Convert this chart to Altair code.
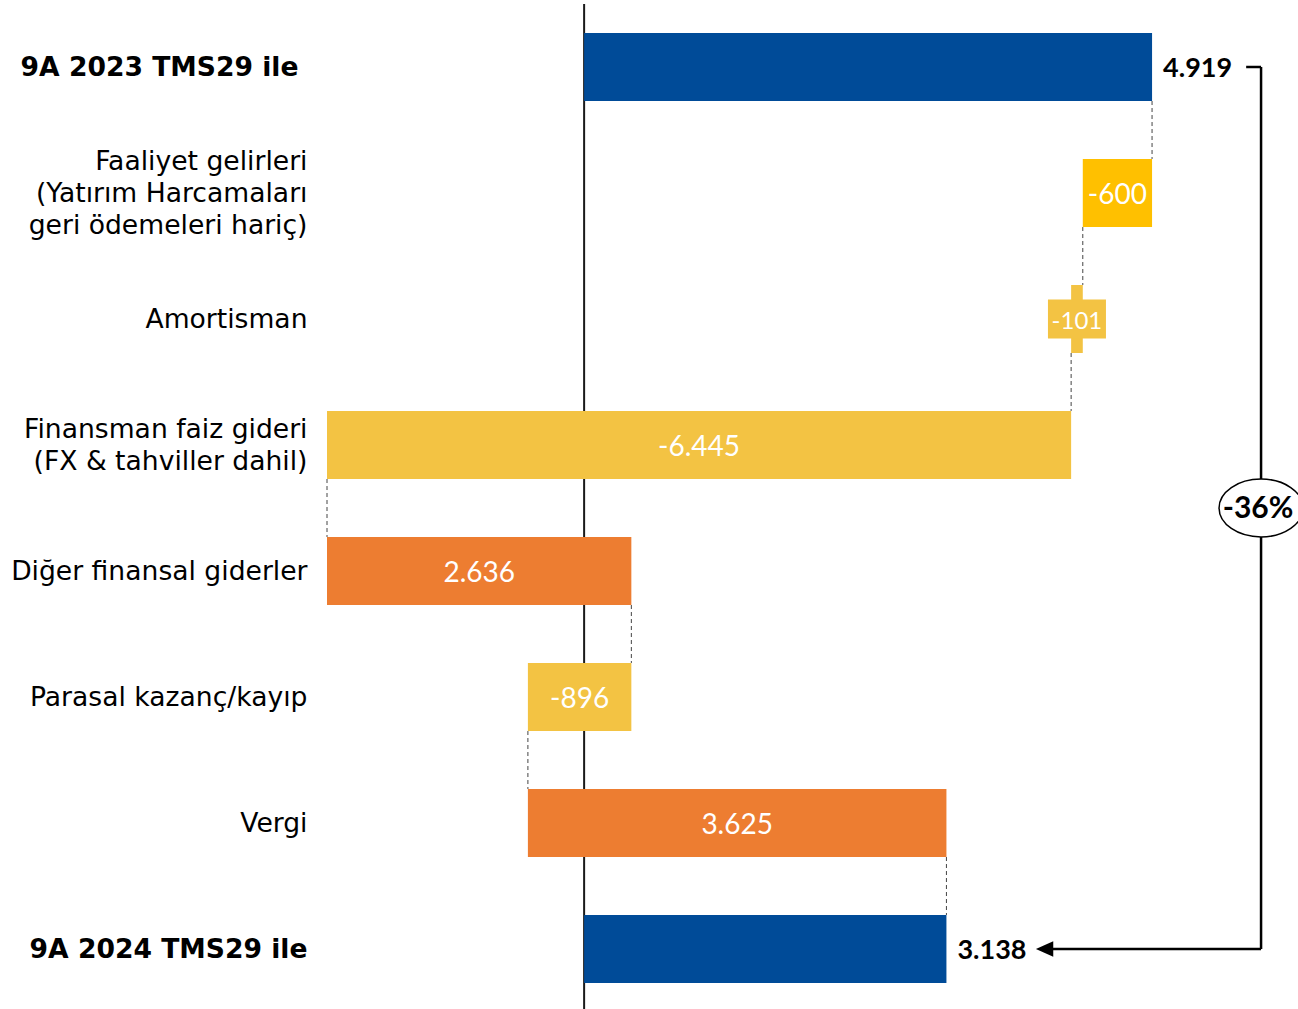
import json
import altair as alt
import pandas as pd

# Row labels ("|" marks a line break), changes and row groups
categories = [
    "9A 2023 TMS29 ile",
    "Faaliyet gelirleri|(Yatırım Harcamaları|geri ödemeleri hariç)",
    "Amortisman",
    "Finansman faiz gideri|(FX & tahviller dahil)",
    "Diğer finansal giderler",
    "Parasal kazanç/kayıp",
    "Vergi",
    "9A 2024 TMS29 ile",
]
values = [4919, -600, -101, -6445, 2636, -896, 3625, 3138]
groups = ["total", "operating", "expense", "expense", "income", "expense", "income", "total"]

group_domain = ["total", "operating", "expense", "income"]
group_colors = ["#004B98", "#FFC000", "#F3C343", "#ED7D31"]

HALF = 0.27          # half bar thickness, in row units
X_MAX = 6183         # right end of the value axis
LABEL_ROOM = 815     # room kept for the bold total label before the bracket
BRACKET_GAP = 944    # distance of the bracket from the opening total
ARROW_GAP = 850      # distance of the arrowhead from the closing total
LINE_HEIGHT = 32     # line height of the row labels, px


def tr_number(v):
    return f"{v:,}".replace(",", ".")


# Waterfall geometry
rows = []
running = 0
for i, (cat, v, g) in enumerate(zip(categories, values, groups)):
    if g == "total":
        start, end = 0, v
        running = v
    else:
        start, end = running, running + v
        running = end
    rows.append({
        "y": i, "ytop": i - HALF, "ybot": i + HALF,
        "start": start, "end": end, "mid": (start + end) / 2,
        "group": g, "label": tr_number(v),
        "boxed": g != "total" and abs(v) < 300,
    })
df = pd.DataFrame(rows)
steps = df[df.group != "total"]
totals = df[df.group == "total"]

connectors = pd.DataFrame([
    {"x": df.end[i], "y": i + HALF, "y2": i + 1 - HALF} for i in range(len(df) - 1)
])

x_min = min(min(df.start), min(df.end))
xscale = alt.Scale(domain=[x_min, X_MAX], nice=False, zero=False)
yscale = alt.Scale(domain=[-0.5, len(categories) - 0.5], reverse=True, nice=False, zero=False)

total_idx = [i for i, g in enumerate(groups) if g == "total"]
bold_test = " || ".join(f"datum.value == {i}" for i in total_idx)
label_expr = f"split({json.dumps(categories, ensure_ascii=False)}[datum.value], '|')"

# Multi-line labels are lifted so that the block is centred on its row
offset_conditions = []
for n in sorted({c.count("|") + 1 for c in categories}):
    if n > 1:
        idx = [i for i, c in enumerate(categories) if c.count("|") + 1 == n]
        offset_conditions.append({
            "test": " || ".join(f"datum.value == {i}" for i in idx),
            "value": -(n - 1) * LINE_HEIGHT / 2,
        })

yaxis = alt.Axis(
    values=list(range(len(categories))), labelExpr=label_expr,
    labelFont="DejaVu Sans", labelFontSize=26.6, labelColor="black",
    labelFontWeight=alt.condition(bold_test, alt.value("bold"), alt.value("normal")),
    labelOffset={"condition": offset_conditions, "value": 0},
    labelPadding={"condition": {"test": f"datum.value == {total_idx[0]}", "value": 29}, "value": 20},
    labelLineHeight=LINE_HEIGHT, labelAlign="right", labelBaseline="middle",
    labelBound=False, labelOverlap=False, labelFlush=False, labelLimit=0,
    ticks=False, domain=False, grid=False, title=None,
)

color = alt.Color("group:N", scale=alt.Scale(domain=group_domain, range=group_colors), legend=None)

zero_line = alt.Chart(pd.DataFrame({"x": [0]})).mark_rule(color="#1a1a1a", strokeWidth=2).encode(
    x=alt.X("x:Q", scale=xscale, axis=None)
)

links = alt.Chart(connectors).mark_rule(color="#444444", strokeWidth=1, strokeDash=[4, 3]).encode(
    x=alt.X("x:Q", scale=xscale, axis=None),
    y=alt.Y("y:Q", scale=yscale, axis=yaxis),
    y2="y2:Q",
)

bars = alt.Chart(df).mark_rect().encode(
    x=alt.X("start:Q", scale=xscale, axis=None),
    x2="end:Q",
    y=alt.Y("ytop:Q", scale=yscale, axis=yaxis),
    y2="ybot:Q",
    color=color,
)

box_shape = "M-1,-0.672L1,-0.672L1,0.672L-1,0.672Z"
label_boxes = alt.Chart(df).transform_filter("datum.boxed").mark_point(
    shape=box_shape, size=3364, filled=True, opacity=1, strokeWidth=0
).encode(
    x=alt.X("mid:Q", scale=xscale, axis=None),
    y=alt.Y("y:Q", scale=yscale, axis=yaxis),
    color=color,
)

inner_labels = alt.Chart(steps).mark_text(
    font="Lato", color="white", align="center", baseline="middle", dy=3
).encode(
    x=alt.X("mid:Q", scale=xscale, axis=None),
    y=alt.Y("y:Q", scale=yscale, axis=yaxis),
    text="label:N",
    size=alt.condition("datum.boxed", alt.value(24), alt.value(28)),
)

total_labels = alt.Chart(totals).mark_text(
    font="Lato", fontWeight="bold", fontSize=27, color="black",
    align="left", baseline="middle", dx=11, dy=2,
).encode(
    x=alt.X("end:Q", scale=xscale, axis=None),
    y=alt.Y("y:Q", scale=yscale, axis=yaxis),
    text="label:N",
)

# Bracket from the opening total to the closing total with the % change
first, last = values[total_idx[0]], values[total_idx[-1]]
bx = first + BRACKET_GAP
arrow_x = last + ARROW_GAP
y_first, y_last = total_idx[0], total_idx[-1]
bracket_lines = pd.DataFrame([
    {"x": first + LABEL_ROOM, "x2": bx, "y": y_first, "y2": y_first},
    {"x": bx, "x2": bx, "y": y_first, "y2": y_last},
    {"x": bx, "x2": arrow_x, "y": y_last, "y2": y_last},
])
bracket = alt.Chart(bracket_lines).mark_rule(color="black", strokeWidth=2.5).encode(
    x=alt.X("x:Q", scale=xscale, axis=None), x2="x2:Q",
    y=alt.Y("y:Q", scale=yscale, axis=yaxis), y2="y2:Q",
)
arrowhead = alt.Chart(pd.DataFrame({"x": [arrow_x], "y": [y_last]})).mark_point(
    shape="M-1,0L1,-0.9L1,0.9Z", size=300, filled=True, color="black", opacity=1
).encode(
    x=alt.X("x:Q", scale=xscale, axis=None),
    y=alt.Y("y:Q", scale=yscale, axis=yaxis),
)

pct = round((last - first) / first * 100)
badge_df = pd.DataFrame({"x": [bx], "y": [(y_first + y_last) / 2], "t": [f"{pct}%"]})
badge = alt.Chart(badge_df).mark_point(
    shape="M-1,0A1,0.69 0 1,1 1,0A1,0.69 0 1,1 -1,0Z", size=7056,
    filled=True, fill="white", stroke="black", strokeWidth=1.5, opacity=1,
).encode(
    x=alt.X("x:Q", scale=xscale, axis=None),
    y=alt.Y("y:Q", scale=yscale, axis=yaxis),
)
badge_text = alt.Chart(badge_df).mark_text(
    font="Lato", fontWeight="bold", fontSize=30, color="black",
    align="center", baseline="middle", dx=-3, dy=1,
).encode(
    x=alt.X("x:Q", scale=xscale, axis=None),
    y=alt.Y("y:Q", scale=yscale, axis=yaxis),
    text="t:N",
)

chart = alt.layer(
    zero_line, links, bars, label_boxes, inner_labels, total_labels,
    bracket, arrowhead, badge, badge_text,
).properties(
    width=971, height=1008, background="white",
    autosize=alt.AutoSizeParams(type="none"),
    padding={"left": 327, "top": 4, "right": 0, "bottom": 0},
).configure_view(stroke=None, strokeWidth=0)

chart.save("out.html", embed_options={"renderer": "svg", "actions": False})
